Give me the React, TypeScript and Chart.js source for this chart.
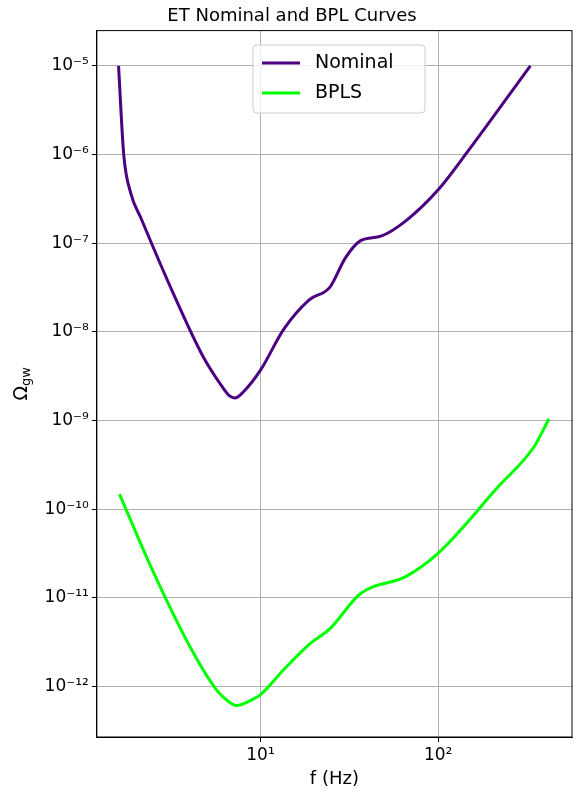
import React, { useEffect, useRef } from 'react';
import { Chart, registerables } from 'chart.js';
Chart.register(...registerables);

const nominalF = [1.59, 1.7, 1.86, 2.13, 3.16, 4.7, 6.1, 6.7, 7.2, 8.0, 10, 13.5, 18.8, 24.6, 30, 36.6, 47.6, 66, 100, 146, 330];
const nominalO = [1e-5, 1e-6, 3.7e-7, 1.9e-7, 3e-8, 5.5e-9, 2.4e-9, 1.9e-9, 1.8e-9, 2.1e-9, 3.7e-9, 1.07e-8, 2.3e-8, 3.2e-8, 6.8e-8, 1.07e-7, 1.2e-7, 1.8e-7, 4e-7, 1.07e-6, 1e-5];
const bplsF = [1.61, 2.43, 4.1, 5.7, 6.6, 7.4, 8.3, 10, 13.5, 18.8, 24.6, 36.6, 66, 100, 218, 347, 420];
const bplsO = [1.48e-10, 2.2e-11, 2.6e-12, 9e-13, 6.8e-13, 6.1e-13, 6.6e-13, 8.1e-13, 1.55e-12, 3e-12, 4.5e-12, 1.12e-11, 1.75e-11, 3.2e-11, 1.8e-10, 5.1e-10, 1.05e-9];
const xTicks = [1, 2];
const yTicks = [-12, -11, -10, -9, -8, -7, -6, -5];

const sup: Record<string, string> = { '-': '⁻', '0': '⁰', '1': '¹', '2': '²', '3': '³', '4': '⁴', '5': '⁵', '6': '⁶', '7': '⁷', '8': '⁸', '9': '⁹' };
const pow = (e: number) => '10' + String(e).split('').map(c => sup[c]).join('');
const font = "'DejaVu Sans', sans-serif";

const extras = {
  id: 'extras',
  afterDraw(chart: any) {
    const { ctx, chartArea: a } = chart;
    ctx.save();
    ctx.strokeStyle = '#000';
    ctx.lineWidth = 1;
    ctx.strokeRect(a.left, a.top, a.right - a.left, a.bottom - a.top);
    ctx.restore();
    // y axis label
    ctx.save();
    ctx.translate(22, (a.top + a.bottom) / 2);
    ctx.rotate(-Math.PI / 2);
    ctx.fillStyle = '#000';
    ctx.textBaseline = 'middle';
    ctx.font = `19px ${font}`;
    const w1 = ctx.measureText('Ω').width;
    ctx.font = `13px ${font}`;
    const w2 = ctx.measureText('gw').width;
    const x0 = -(w1 + w2) / 2;
    ctx.font = `19px ${font}`;
    ctx.fillText('Ω', x0, 0);
    ctx.font = `13px ${font}`;
    ctx.fillText('gw', x0 + w1, 5);
    ctx.restore();
    // legend
    ctx.save();
    const bx = 253, by = 45, bw = 172, bh = 68;
    ctx.fillStyle = 'rgba(255,255,255,0.8)';
    ctx.strokeStyle = '#ccc';
    ctx.lineWidth = 1;
    ctx.beginPath();
    ctx.roundRect(bx, by, bw, bh, 4);
    ctx.fill();
    ctx.stroke();
    ctx.font = `19px ${font}`;
    ctx.textBaseline = 'middle';
    chart.data.datasets.forEach((d: any, i: number) => {
      const y = by + 18 + i * 30;
      ctx.strokeStyle = d.borderColor;
      ctx.lineWidth = 3;
      ctx.beginPath();
      ctx.moveTo(bx + 9, y);
      ctx.lineTo(bx + 47, y);
      ctx.stroke();
      ctx.fillStyle = '#000';
      ctx.fillText(d.label, bx + 62, y);
    });
    ctx.restore();
  },
};

export default function App() {
  const ref = useRef<HTMLCanvasElement>(null);
  useEffect(() => {
    document.body.style.margin = '0';
    if (!ref.current) return;
    const chart = new Chart(ref.current, {
      type: 'scatter',
      data: {
        datasets: [
          { label: 'Nominal', data: nominalF.map((f, i) => ({ x: f, y: nominalO[i] })), borderColor: '#4b0082', showLine: true, borderWidth: 3, pointRadius: 0, cubicInterpolationMode: 'monotone' },
          { label: 'BPLS', data: bplsF.map((f, i) => ({ x: f, y: bplsO[i] })), borderColor: '#00ff00', showLine: true, borderWidth: 3, pointRadius: 0, cubicInterpolationMode: 'monotone' },
        ],
      },
      options: {
        responsive: false,
        animation: false,
        layout: { padding: { left: 12, right: 9, top: 0, bottom: 4 } },
        plugins: {
          legend: { display: false },
          tooltip: { enabled: false },
          title: { display: true, text: 'ET Nominal and BPL Curves', color: '#000', font: { size: 18, family: font, weight: 'normal' }, padding: { top: 6, bottom: 3 } },
        },
        scales: {
          x: {
            type: 'logarithmic', min: 1.2, max: 566,
            afterBuildTicks: (s: any) => { s.ticks = xTicks.map(e => ({ value: Math.pow(10, e) })); },
            ticks: { callback: (v: any) => pow(Math.round(Math.log10(v))), color: '#000', font: { size: 17, family: font }, maxRotation: 0, autoSkip: false },
            grid: { color: '#b0b0b0', tickColor: '#000', tickLength: 5 },
            border: { color: '#000' },
            title: { display: true, text: 'f (Hz)', color: '#000', font: { size: 18, family: font }, padding: { top: 0, bottom: 0 } },
          },
          y: {
            type: 'logarithmic', min: 2.7e-13, max: 2.5e-5,
            afterBuildTicks: (s: any) => { s.ticks = yTicks.map(e => ({ value: Math.pow(10, e) })); },
            ticks: { callback: (v: any) => pow(Math.round(Math.log10(v))), color: '#000', font: { size: 17, family: font }, autoSkip: false },
            grid: { color: '#b0b0b0', tickColor: '#000', tickLength: 5 },
            border: { color: '#000' },
            title: { display: true, text: ' ', font: { size: 18 } },
          },
        },
      },
      plugins: [extras],
    } as any);
    return () => chart.destroy();
  }, []);
  return (
    <div style={{ width: 581, height: 794 }}>
      <canvas ref={ref} width={581} height={794}></canvas>
    </div>
  );
}
